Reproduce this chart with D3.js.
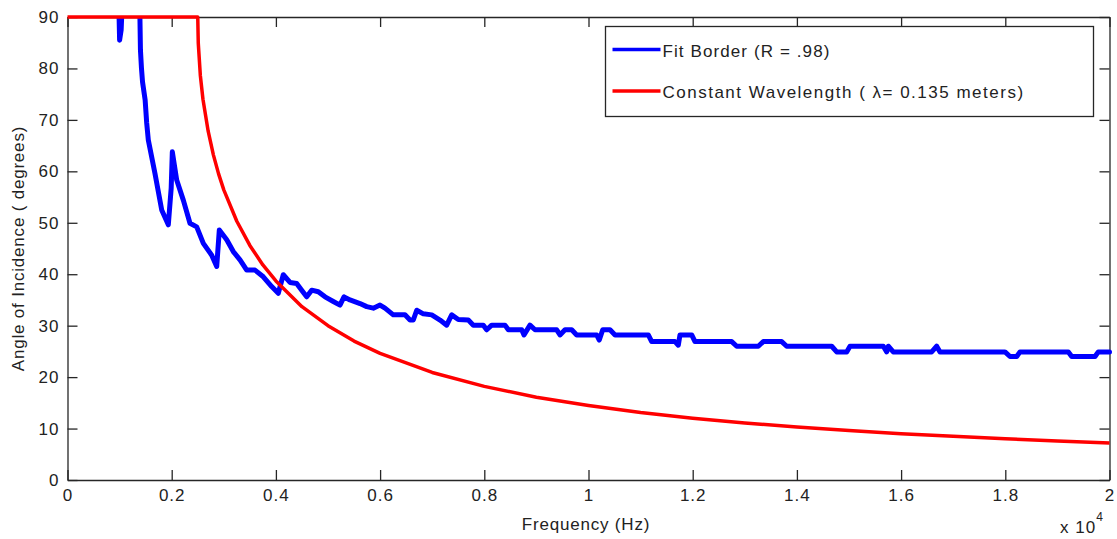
<!DOCTYPE html>
<html>
<head>
<meta charset="utf-8">
<script src="https://cdn.jsdelivr.net/npm/d3@7"></script>
<style>
  body { margin: 0; background: #fff; }
  text { font-family: "Liberation Sans", Arial, sans-serif; fill: #222; }
</style>
</head>
<body>
<div id="root"></div>
<script>
// measured fit border (Hz, degrees); null = gap where the border sits under the 90 deg cap
const fitFreq = [990, 1000, 1030, 1040, 1200, 1390, 1400, 1420, 1440, 1490, 1520, 1551, 1679, 1808, 1935, 1990, 2012,
  2096, 2223, 2351, 2480, 2607, 2768, 2864, 2914, 3056, 3182, 3311, 3440, 3599, 3758, 3919, 4046, 4142, 4271,
  4399, 4495, 4591, 4687, 4814, 4943, 5102, 5230, 5307, 5422, 5614, 5743, 5870, 5998, 6094, 6253, 6478, 6574,
  6637, 6703, 6829, 6991, 7150, 7278, 7374, 7501, 7693, 7789, 7981, 8046, 8142, 8397, 8461, 8718, 8762, 8877,
  8973, 9390, 9453, 9549, 9678, 9773, 10157, 10207, 10273, 10413, 10509, 11148, 11213, 11660, 11724, 11756,
  11981, 12044, 12749, 12845, 13259, 13355, 13708, 13804, 14668, 14764, 14956, 15019, 15659, 15724, 15755,
  15850, 16587, 16683, 16747, 17994, 18090, 18219, 18282, 19210, 19275, 19722, 19785, 20000];
const fitAngle = [90, 85.5, 87.5, 90, null, 90, 83.6, 80.0, 77.4, 73.9, 69.4, 66.1, 59.6, 52.5, 49.6, 56.7, 63.8,
  58.3, 54.4, 49.9, 49.2, 46.0, 43.7, 41.5, 48.6, 46.7, 44.4, 42.8, 40.8, 40.8, 39.5, 37.6, 36.3, 39.9, 38.4,
  38.2, 36.9, 35.6, 36.9, 36.6, 35.6, 34.7, 34.0, 35.6, 35.0, 34.3, 33.7, 33.4, 34.0, 33.4, 32.1, 32.1, 31.1,
  31.1, 33.0, 32.3, 32.1, 31.1, 30.1, 32.1, 31.2, 31.1, 30.1, 30.1, 29.2, 30.1, 30.1, 29.2, 29.2, 28.2, 30.1,
  29.2, 29.2, 28.2, 29.2, 29.2, 28.2, 28.2, 27.2, 29.2, 29.2, 28.2, 28.2, 26.9, 26.9, 26.2, 28.2,
  28.2, 26.9, 26.9, 26.0, 26.0, 26.9, 26.9, 26.0, 26.0, 24.9, 24.9, 26.0, 26.0, 24.9, 26.0,
  24.9, 24.9, 26.0, 24.9, 24.9, 24.0, 24.0, 24.9, 24.9, 24.0, 24.0, 24.9, 24.9];

// constant wavelength curve (Hz, degrees)
const waveFreq = [0, 2500, 2510, 2550, 2600, 2700, 2800, 2900, 3000, 3250, 3500, 3750, 4000, 4500, 5000, 5500,
  6000, 7000, 8000, 9000, 10000, 11000, 12000, 13000, 14000, 15000, 16000, 17000, 18000, 19000, 20000];
const waveAngle = [90, 90, 84.9, 78.6, 74.0, 67.8, 63.2, 59.5, 56.4, 50.3, 45.6, 41.8, 38.7, 33.7, 30.0, 27.0,
  24.6, 20.9, 18.2, 16.1, 14.5, 13.1, 12.0, 11.1, 10.3, 9.6, 9.0, 8.5, 8.0, 7.6, 7.2];

const xTicks = [0, 2000, 4000, 6000, 8000, 10000, 12000, 14000, 16000, 18000, 20000];
const yTicks = [0, 10, 20, 30, 40, 50, 60, 70, 80, 90];
const seriesLabels = ["Fit Border (R = .98)", "Constant Wavelength ( \u03bb= 0.135 meters)"];
const seriesColors = ["#0000ff", "#ff0000"];

const width = 1117;
const height = 539;
const margin = { top: 17, right: 7.5, bottom: 59, left: 67.5 };
const innerWidth = width - margin.left - margin.right;
const innerHeight = height - margin.top - margin.bottom;

const svg = d3.select("#root")
  .append("svg")
  .attr("width", width)
  .attr("height", height);

svg.append("clipPath")
  .attr("id", "plot-clip")
  .append("rect")
  .attr("x", -5)
  .attr("y", 0)
  .attr("width", innerWidth + 10)
  .attr("height", innerHeight);

const innerChart = svg.append("g")
  .attr("transform", `translate(${margin.left}, ${margin.top})`);

const xScale = d3.scaleLinear().domain([0, 20000]).range([0, innerWidth]);
const yScale = d3.scaleLinear().domain([0, 90]).range([innerHeight, 0]);

// axes, ticks pointing inward on all four sides
const bottomAxis = d3.axisBottom(xScale).tickValues(xTicks).tickSize(-10).tickSizeOuter(0)
  .tickPadding(9).tickFormat(d => d3.format("~g")(d / 10000));
const topAxis = d3.axisTop(xScale).tickValues(xTicks).tickSize(-10).tickSizeOuter(0).tickFormat("");
const leftAxis = d3.axisLeft(yScale).tickValues(yTicks).tickSize(-10).tickSizeOuter(0).tickPadding(8);
const rightAxis = d3.axisRight(yScale).tickValues(yTicks).tickSize(-10).tickSizeOuter(0).tickFormat("");

const axes = [
  innerChart.append("g").attr("transform", `translate(0, ${innerHeight})`).call(bottomAxis),
  innerChart.append("g").call(topAxis),
  innerChart.append("g").call(leftAxis),
  innerChart.append("g").attr("transform", `translate(${innerWidth}, 0)`).call(rightAxis),
];
axes.forEach(g => {
  g.selectAll("path, line").attr("stroke", "#262626").attr("stroke-width", 1.3);
  g.selectAll("text")
    .style("font-family", "'Liberation Sans', Arial, sans-serif")
    .style("font-size", "17px")
    .style("letter-spacing", "1px")
    .attr("fill", "#222");
});

const fitData = fitFreq.map((f, i) => ({ f, a: fitAngle[i] }));
const waveData = waveFreq.map((f, i) => ({ f, a: waveAngle[i] }));

const lineGenerator = d3.line()
  .defined(d => d.a != null)
  .x(d => xScale(d.f))
  .y(d => yScale(d.a));

const marks = innerChart.append("g").attr("clip-path", "url(#plot-clip)");

marks.append("path")
  .datum(fitData)
  .attr("d", lineGenerator)
  .attr("fill", "none")
  .attr("stroke", seriesColors[0])
  .attr("stroke-width", 5)
  .attr("stroke-linejoin", "round")
  .attr("stroke-linecap", "round");

innerChart.append("path")
  .datum(waveData)
  .attr("d", lineGenerator)
  .attr("fill", "none")
  .attr("stroke", seriesColors[1])
  .attr("stroke-width", 3.5)
  .attr("stroke-linejoin", "round");

// legend
const legend = svg.append("g").attr("transform", "translate(605.5, 26.5)");
legend.append("rect")
  .attr("width", 488)
  .attr("height", 90)
  .attr("fill", "#fff")
  .attr("stroke", "#262626")
  .attr("stroke-width", 1.3);

const labelSpacing = ["1.1px", "1.5px"];
seriesLabels.forEach((label, i) => {
  const y = 23 + i * 41.5;
  legend.append("line")
    .attr("x1", 7).attr("x2", 55)
    .attr("y1", y).attr("y2", y)
    .attr("stroke", seriesColors[i])
    .attr("stroke-width", 3.5);
  legend.append("text")
    .attr("x", 57)
    .attr("y", y + 7)
    .text(label)
    .style("font-size", "17px")
    .style("letter-spacing", labelSpacing[i]);
});

// axis titles
svg.append("text")
  .attr("x", 586)
  .attr("y", 530)
  .attr("text-anchor", "middle")
  .text("Frequency (Hz)")
  .style("font-size", "17px")
  .style("letter-spacing", "0.8px");

svg.append("text")
  .attr("transform", `translate(24, ${margin.top + innerHeight / 2}) rotate(-90)`)
  .attr("text-anchor", "middle")
  .text("Angle of Incidence ( degrees)")
  .style("font-size", "17px")
  .style("letter-spacing", "0.8px");

const expLabel = svg.append("text")
  .attr("x", 1060)
  .attr("y", 533)
  .style("font-size", "17px")
  .style("letter-spacing", "1px");
expLabel.append("tspan").text("x 10");
expLabel.append("tspan").attr("dy", -12).style("font-size", "12px").text("4");
</script>
</body>
</html>
